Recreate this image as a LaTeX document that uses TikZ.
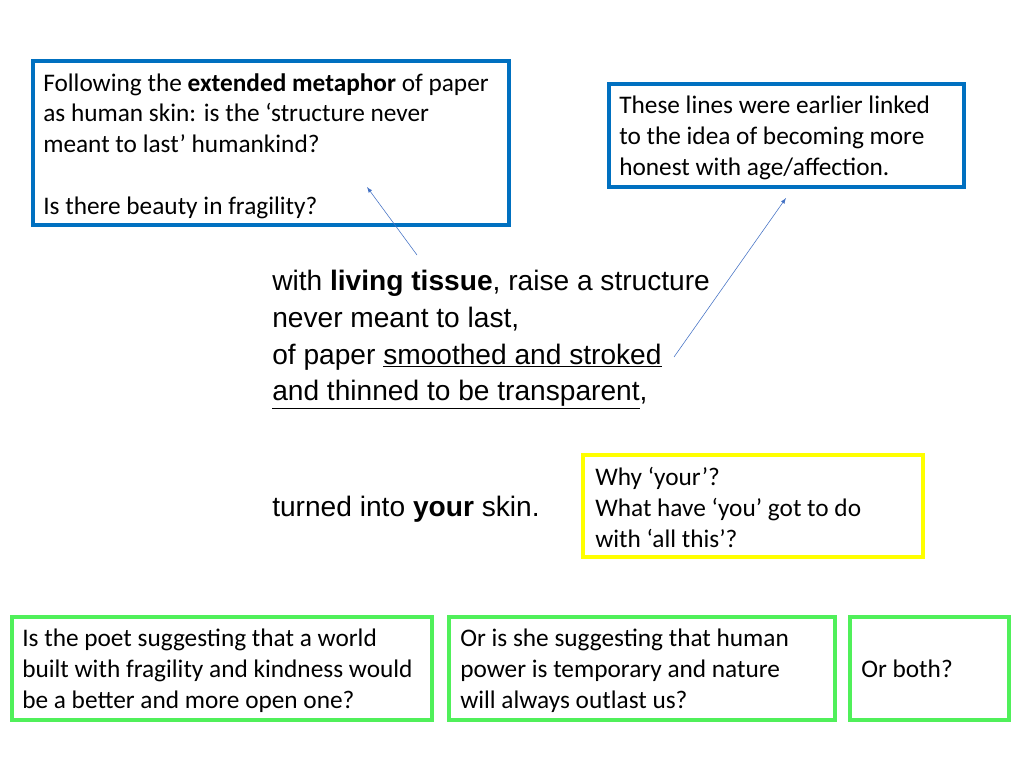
\documentclass[tikz,border=0pt]{standalone}
\usepackage{fontspec}
\setmainfont{Carlito}
\newfontfamily\poemfont{Liberation Sans}
\usetikzlibrary{positioning}
\definecolor{boxBlue}{RGB}{0,112,192}
\definecolor{boxYellow}{RGB}{255,255,0}
\definecolor{boxGreen}{RGB}{80,240,90}
\definecolor{arrowBlue}{RGB}{68,114,196}
\tikzstyle{noteText} = [anchor=north west, align=left, inner sep=0pt, font=\fontsize{18}{22}\selectfont]
\tikzstyle{noteBox} = [line width=3pt]
\tikzstyle{poemLine} = [anchor=base west, inner sep=0pt, font=\poemfont\fontsize{20}{26}\selectfont]
\tikzstyle{pointer} = [draw=arrowBlue, thin, -latex]
\begin{document}
\begin{tikzpicture}[x=0.025cm, y=-0.025cm]
  \useasboundingbox (0,0) rectangle (1024,768);
  % boxes
  \draw [noteBox, boxBlue] (33,61) rectangle (509,225);
  \draw [noteBox, boxBlue] (609,84) rectangle (964,187);
  \draw [noteBox, boxYellow] (583,455) rectangle (923,557);
  \draw [noteBox, boxGreen] (12,617) rectangle (432,720);
  \draw [noteBox, boxGreen] (449,617) rectangle (835,720);
  \draw [noteBox, boxGreen] (850,617) rectangle (1009,720);
  % notes
  \node [noteText] (metaphor) at (43,73) {Following the \textbf{extended metaphor} of paper\\as human skin: is the ‘structure never\\meant to last’ humankind?\\[22pt]Is there beauty in fragility?};
  \node [noteText] (honest) at (619,96) {These lines were earlier linked\\to the idea of becoming more\\honest with age/affection.};
  \node [noteText] (your) at (595,467) {Why ‘your’?\\What have ‘you’ got to do\\with ‘all this’?};
  \node [noteText] (kindness) at (22,629) {Is the poet suggesting that a world\\built with fragility and kindness would\\be a better and more open one?};
  \node [noteText] (outlast) at (460,629) {Or is she suggesting that human\\power is temporary and nature\\will always outlast us?};
  \node [noteText] (both) at (861,660) {Or both?};
  % poem
  \node [poemLine] (line1) at (272,290) {with \textbf{living tissue}, raise a structure};
  \node [poemLine] (line2) at (272,327) {never meant to last,};
  \node [poemLine] (line3) at (272,364) {of paper \underline{smoothed and stroked}};
  \node [poemLine] (line4) at (272,400) {\underline{and thinned to be transparent},};
  \node [poemLine] (line5) at (272,516) {turned into \textbf{your} skin.};
  % pointers
  \coordinate (tissueTip) at (417,255);
  \coordinate (metaphorHead) at (367,187);
  \coordinate (strokedTip) at (674,357);
  \coordinate (honestHead) at (786,198);
  \draw [pointer] (tissueTip) -- (metaphorHead);
  \draw [pointer] (strokedTip) -- (honestHead);
\end{tikzpicture}
\end{document}
